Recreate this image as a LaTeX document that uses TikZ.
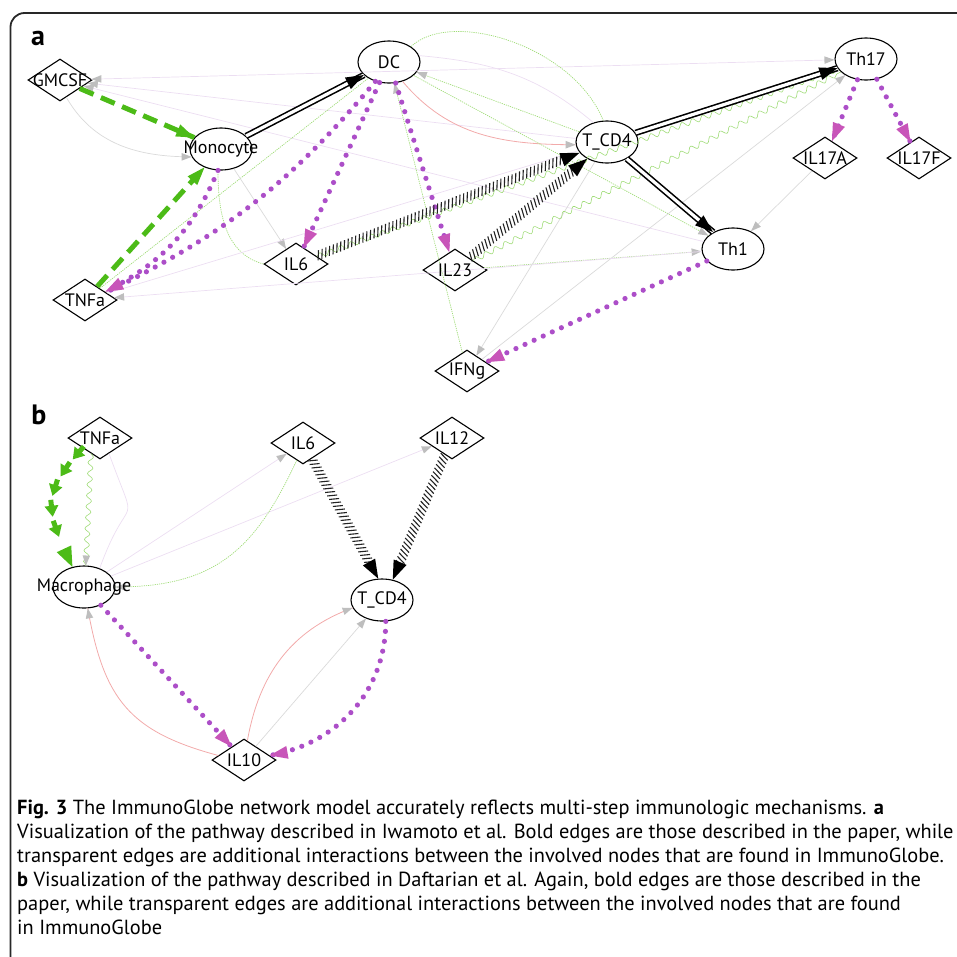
\documentclass[tikz,border=0pt]{standalone}
\usepackage{fontspec}
\setmainfont{PT Sans}
\usetikzlibrary{shapes.geometric,decorations.markings,decorations.pathmorphing,calc}
\definecolor{bgreen}{RGB}{76,187,23}
\definecolor{dotpurple}{RGB}{172,78,200}
\definecolor{tipmag}{RGB}{200,85,185}
\definecolor{lavcol}{RGB}{236,222,242}
\definecolor{greyline}{RGB}{218,218,218}
\definecolor{lgreencol}{RGB}{160,220,120}
\definecolor{lredcol}{RGB}{242,170,170}
\definecolor{tipgrey}{RGB}{190,190,190}
\definecolor{hatchcol}{RGB}{35,35,35}
\definecolor{framecol}{RGB}{40,40,40}
\tikzset{
  ell/.style={draw, line width=1.1pt, ellipse, fill=white, minimum width=62pt, minimum height=42pt, inner sep=0pt},
  dia/.style={draw, line width=1.1pt, diamond, minimum width=64pt, minimum height=42pt, inner sep=0pt},
  lbl/.style={font=\fontsize{18}{20}\selectfont, inner sep=0pt},
  captxt/.style={font=\fontsize{20.4}{24}\selectfont, inner sep=0pt, anchor=base west},
  panellbl/.style={font=\fontsize{28}{30}\selectfont\bfseries, inner sep=0pt, anchor=base},
  endtri/.style n args={3}{postaction={decorate,decoration={markings,mark=at position 1 with {\fill[#1] (0pt,0pt) -- (-#2,#3) -- (-#2,-#3) -- cycle;}}}},
  btip/.style={endtri={#1}{18pt}{6.5pt}},
  gtip/.style={endtri={tipgrey}{10pt}{3.8pt}},
  lav/.style={draw=lavcol, line width=0.7pt},
  lgrey/.style={draw=greyline, line width=0.7pt},
  lgreen/.style={draw=lgreencol, line width=0.7pt, dash pattern=on 1.2pt off 1pt},
  lred/.style={draw=lredcol, line width=0.8pt},
  wavy/.style={draw=lgreencol, line width=0.6pt, decorate, decoration={snake, amplitude=2.6pt, segment length=11pt}},
  gdash/.style={draw=bgreen, line width=5pt, dash pattern=on 15pt off 8pt},
  pdot/.style={draw=dotpurple, line width=5.2pt, line cap=round, dash pattern=on 0pt off 10pt},
  dbl/.style={draw=black, line width=1.6pt, double=white, double distance=3.2pt},
  hatchp/.style={postaction={decorate,decoration={markings,
      mark=between positions 2pt and -16pt step 4pt with {\draw[hatchcol,line width=1.1pt] (-2pt,-4.6pt) -- (2pt,4.6pt);},
      mark=at position 1 with {\fill[black] (0pt,0pt) -- (-19pt,7pt) -- (-19pt,-7pt) -- cycle;}}}},
  gchain/.style={postaction={decorate,decoration={markings,
      mark=between positions 10pt and -24pt step 21pt with {\draw[bgreen,line width=5pt] (-12pt,0pt) -- (-4pt,0pt); \fill[bgreen] (5pt,0pt) -- (-6pt,7pt) -- (-6pt,-7pt) -- cycle;}}}},
  bigtip/.style={endtri={bgreen}{20pt}{8pt}},
}
\begin{document}
\begin{tikzpicture}[x=1pt,y=1pt]
\useasboundingbox (0,0) rectangle (957,-956);
\clip (0,0) rectangle (957,-956);
\draw[framecol, line width=1.8pt, rounded corners=14pt] (10.5,-1000) -- (10.5,-13) -- (1000,-13);

% ---------- panel a nodes (shapes) ----------
\node[dia] (GM) at (60,-80) {};
\node[ell] (Mono) at (221,-149) {};
\node[ell] (DC) at (389,-62) {};
\node[ell] (TC) at (607,-142) {};
\node[ell] (Th17) at (866,-59) {};
\node[ell] (Th1) at (733,-249) {};
\node[dia] (IL17A) at (825,-158) {};
\node[dia] (IL17F) at (919,-158) {};
\node[dia] (IL6a) at (296,-264) {};
\node[dia] (IL23) at (455,-270) {};
\node[dia] (IFNg) at (467,-371) {};
\node[dia] (TNFa) at (85,-300) {};

% ---------- panel a transparent edges ----------
\draw[lav, gtip] (Th17) -- (GM);
\path[gtip] (GM) -- (Th17);
\draw[lav, gtip] (Th1) -- (GM);
\draw[lav, gtip] (TC) -- (GM);
\draw[lgrey, gtip] (GM.-70) to[out=-60, in=180] (Mono.195);
\draw[lgreen] (TNFa) -- (DC);
\draw[lgreen, gtip] (IL6a.west) to[out=165, in=-90] (Mono.262);
\draw[lgrey, gtip] (Mono) -- (IL6a);
\draw[lgreen, gtip] (DC.35) .. controls +(40,38) and +(-30,75) .. (TC.100);
\draw[lav] (DC.12) to[out=-5, in=140] (TC.125);
\draw[lred, gtip] (DC.-55) to[out=-50, in=180] (TC.185);
\draw[lgreen, gtip] (TC) -- (DC);
\draw[lgreen, gtip] (DC) -- (Th1);
\draw[lgreen, gtip] (IL23) -- (Th1);
\draw[lgreen, gtip] (IFNg) -- (DC);
\draw[lgrey, gtip] (TC) -- (IFNg);
\draw[lgrey, gtip] (IL17A) -- (Th1);
\draw[lgrey, gtip] (IFNg) -- (Th17);
\draw[lav] (TC) -- (TNFa);
\draw[lav, gtip] (Th1) -- (TNFa);
\draw[wavy] (IL6a) -- (Th17);
\draw[wavy] (IL23) -- (Th17);

% ---------- panel a bold edges ----------
\draw[gdash, btip=bgreen] (GM) -- (Mono);
\draw[gdash, btip=bgreen] (TNFa) -- (Mono);
\draw[dbl, btip=black] (Mono) -- (DC);
\draw[pdot, btip=tipmag] (DC) -- (IL6a);
\draw[pdot, btip=tipmag] (DC.235) to[bend left=12] (TNFa.20);
\draw[pdot, btip=tipmag] (Mono.262) to[bend left=20] (TNFa.22);
\draw[pdot, btip=tipmag] (DC) -- (IL23);
\path[hatchp] (IL6a) -- (TC);
\path[hatchp] (IL23) -- (TC);
\draw[dbl, btip=black] (TC) -- (Th17);
\draw[dbl, btip=black] (TC) -- (Th1);
\draw[pdot, btip=tipmag] (Th17) -- (IL17A);
\draw[pdot, btip=tipmag] (Th17) -- (IL17F);
\draw[pdot, btip=tipmag] (Th1) -- (IFNg);

% ---------- panel a labels ----------
\node[lbl] at (GM) {GMCSF};
\node[lbl] at (Mono) {Monocyte};
\node[lbl] at (DC) {DC};
\node[lbl] at (TC) {T\_CD4};
\node[lbl] at (Th17) {Th17};
\node[lbl] at (Th1) {Th1};
\node[lbl] at (IL17A) {IL17A};
\node[lbl] at (IL17F) {IL17F};
\node[lbl] at (IL6a) {IL6};
\node[lbl] at (IL23) {IL23};
\node[lbl] at (IFNg) {IFNg};
\node[lbl] at (TNFa) {TNFa};
\node[panellbl] (pa) at (38,-45) {a};

% ---------- panel b nodes ----------
\node[dia] (TNFb) at (100,-438) {};
\node[dia] (IL6b) at (303,-443) {};
\node[dia] (IL12) at (452,-438) {};
\node[ell] (Mac) at (84,-587) {};
\node[ell] (TCb) at (382,-600) {};
\node[dia] (IL10) at (244,-760) {};

% ---------- panel b transparent edges ----------
\draw[wavy] (TNFb.240) -- (Mac.85);
\path[gtip] (TNFb.240) -- (Mac.85);
\draw[lav, gtip] (Mac.50) to[out=70, in=-70, looseness=2] (TNFb.-60);
\draw[lav, gtip] (Mac) -- (IL6b);
\draw[lav, gtip] (Mac) -- (IL12);
\draw[lgreen, gtip] (IL6b.250) to[out=-115, in=0, looseness=1.15] (Mac.east);
\draw[lred, gtip] (IL10.170) to[out=165, in=-80, looseness=1.2] (Mac.-80);
\draw[lred, gtip] (IL10.80) to[out=80, in=200] (TCb.195);
\draw[lgrey, gtip] (IL10) -- (TCb);

% ---------- panel b bold edges ----------
\path[gchain] (TNFb.210) to[out=228, in=115, looseness=1.35] (Mac.120);
\path[bigtip] (TNFb.210) to[out=228, in=115, looseness=1.35] (Mac.120);
\path[hatchp] (IL6b) -- (TCb.100);
\path[hatchp] (IL12) -- (TCb.62);
\draw[pdot, btip=tipmag] (Mac) -- (IL10);
\draw[pdot, btip=tipmag] (TCb.-80) to[out=-90, in=10] (IL10.10);

% ---------- panel b labels ----------
\node[lbl] at (TNFb) {TNFa};
\node[lbl] at (IL6b) {IL6};
\node[lbl] at (IL12) {IL12};
\node[lbl] at (Mac) {Macrophage};
\node[lbl] at (TCb) {T\_CD4};
\node[lbl] at (IL10) {IL10};
\node[panellbl] (pb) at (39,-424) {b};

% ---------- caption ----------
\node[captxt] (c1) at (17,-814) {\textbf{Fig. 3} The ImmunoGlobe network model accurately reflects multi-step immunologic mechanisms. \textbf{a}};
\node[captxt] (c2) at (17,-838) {Visualization of the pathway described in Iwamoto et al. Bold edges are those described in the paper, while};
\node[captxt] (c3) at (17,-862) {transparent edges are additional interactions between the involved nodes that are found in ImmunoGlobe.};
\node[captxt] (c4) at (17,-886) {\textbf{b} Visualization of the pathway described in Daftarian et al. Again, bold edges are those described in the};
\node[captxt] (c5) at (17,-910) {paper, while transparent edges are additional interactions between the involved nodes that are found};
\node[captxt] (c6) at (17,-934) {in ImmunoGlobe};
\end{tikzpicture}
\end{document}
